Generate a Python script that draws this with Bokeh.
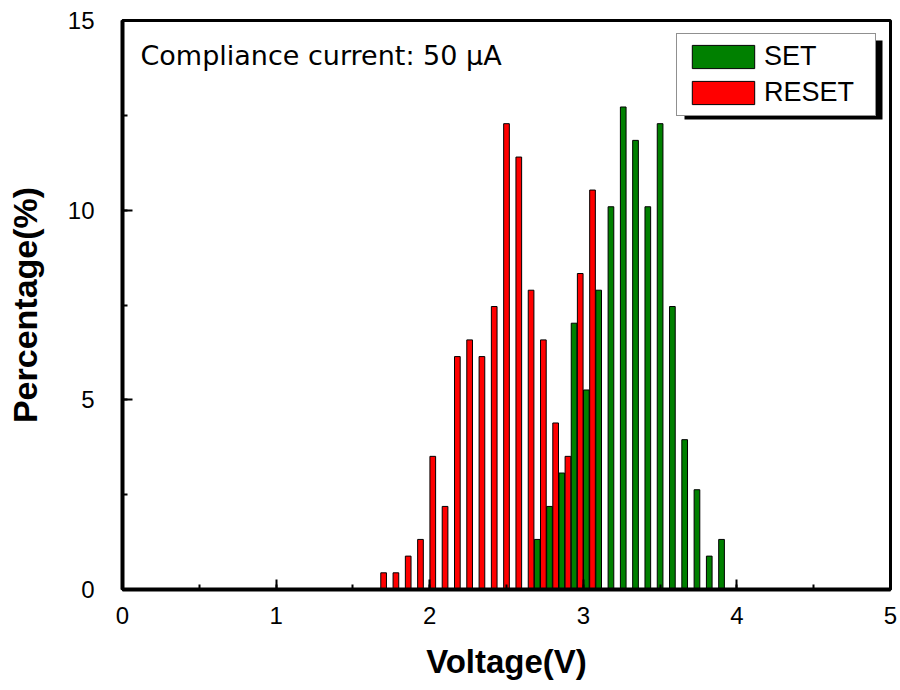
from bokeh.plotting import figure
from bokeh.models import (Range1d, SingleIntervalTicker, Legend, Label,
                          BoxAnnotation)
from bokeh.embed import file_html
from bokeh.resources import INLINE

# Switching-voltage distributions (percentage of cycles per 0.08 V bin)
set_voltage = [2.70, 2.78, 2.86, 2.94, 3.02, 3.10, 3.18, 3.26,
               3.34, 3.42, 3.50, 3.58, 3.66, 3.74, 3.82, 3.90]
set_percent = [1.32, 2.19, 3.07, 7.02, 5.26, 7.89, 10.09, 12.72,
               11.84, 10.09, 12.28, 7.46, 3.95, 2.63, 0.88, 1.32]

reset_voltage = [1.70, 1.78, 1.86, 1.94, 2.02, 2.10, 2.18, 2.26, 2.34,
                 2.42, 2.50, 2.58, 2.66, 2.74, 2.82, 2.90, 2.98, 3.06]
reset_percent = [0.44, 0.44, 0.88, 1.32, 3.51, 2.19, 6.14, 6.58, 6.14,
                 7.46, 12.28, 11.40, 7.89, 6.58, 4.39, 3.51, 8.33, 10.53]

FONT = "Liberation Sans"

p = figure(width=900, height=690, output_backend="svg", toolbar_location=None,
           x_range=Range1d(0, 5), y_range=Range1d(0, 15),
           min_border_left=122, min_border_right=10,
           min_border_top=20, min_border_bottom=101)

p.background_fill_color = "white"
p.border_fill_color = "white"
p.grid.visible = False
p.outline_line_color = "black"
p.outline_line_width = 3
p.outline_line_alpha = 1

bar_width = 0.037
r_set = p.vbar(x=set_voltage, top=set_percent, bottom=0, width=bar_width,
               fill_color="#008000", line_color="black", line_width=1)
r_reset = p.vbar(x=reset_voltage, top=reset_percent, bottom=0, width=bar_width,
                 fill_color="#ff0000", line_color="black", line_width=1)

# axes: inward ticks, thick spines
p.xaxis.ticker = SingleIntervalTicker(interval=1, num_minor_ticks=2)
p.yaxis.ticker = SingleIntervalTicker(interval=5, num_minor_ticks=2)
for ax in (p.xaxis, p.yaxis):
    ax.axis_line_width = 4
    ax.axis_line_color = "black"
    ax.major_tick_in = 10
    ax.major_tick_out = 0
    ax.minor_tick_in = 5
    ax.minor_tick_out = 0
    ax.major_tick_line_width = 2
    ax.minor_tick_line_width = 2
    ax.major_tick_line_color = "black"
    ax.minor_tick_line_color = "black"
    ax.major_label_text_font = FONT
    ax.major_label_text_font_size = "24px"
    ax.major_label_text_color = "black"
    ax.axis_label_text_font = FONT
    ax.axis_label_text_font_style = "bold"
    ax.axis_label_text_color = "black"

p.xaxis.axis_label = "Voltage(V)"
p.xaxis.axis_label_text_font_size = "33px"
p.xaxis.major_label_standoff = 17
p.xaxis.axis_label_standoff = 16

p.yaxis.axis_label = "Percentage(%)"
p.yaxis.axis_label_text_font_size = "34px"
p.yaxis.major_label_standoff = 28
p.yaxis.axis_label_standoff = 21

# drop shadow behind the legend (screen units from the frame's lower-left)
shadow = BoxAnnotation(left=562, right=760, bottom=470, top=549,
                       left_units="screen", right_units="screen",
                       bottom_units="screen", top_units="screen",
                       fill_color="black", fill_alpha=1, line_color=None)
p.add_layout(shadow)

legend = Legend(items=[("SET", [r_set]), ("RESET", [r_reset])],
                location=(554, 473), orientation="vertical",
                margin=0, padding=7, spacing=5,
                glyph_width=78, glyph_height=29,
                label_standoff=2, label_width=104, label_height=23,
                label_text_font=FONT, label_text_font_size="27px",
                label_text_color="black",
                border_line_color="#222222", border_line_width=1,
                background_fill_color="white", background_fill_alpha=1)
p.add_layout(legend)

note = Label(x=18, y=534, x_units="screen", y_units="screen",
             text="Compliance current: 50 \u03bcA", text_baseline="middle",
             text_font="DejaVu Sans", text_font_size="27px",
             text_color="black")
p.add_layout(note)

open("out.html", "w").write(file_html(p, INLINE))
